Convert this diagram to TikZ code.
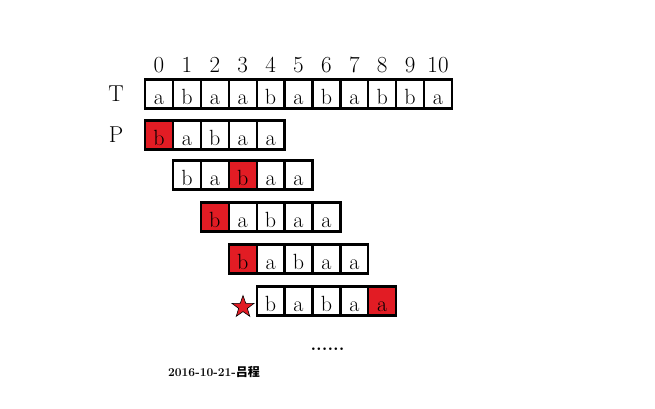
\documentclass[tikz,border=0pt]{standalone}
\usepackage{fontspec}
\usepackage{xcolor}
\newfontfamily\cjk{Noto Sans CJK SC}
\usetikzlibrary{shapes.geometric,positioning}
\definecolor{hitred}{RGB}{226,28,36}
\tikzset{
  cell/.style={draw, line width=2.3pt, minimum width=27.9pt, minimum height=29pt, inner sep=0pt,
    text height=21pt, text depth=0pt, font=\fontsize{22}{22}\selectfont},
  hit/.style={cell, fill=hitred},
  lbl/.style={inner sep=0pt, font=\fontsize{23}{23}\selectfont},
  starmark/.style={star, star points=5, star point ratio=2.5, minimum size=23pt, inner sep=0pt,
    draw, fill=hitred, line width=0.6pt}
}
\begin{document}
\begin{tikzpicture}[x=1pt,y=-1pt]
  \useasboundingbox (0,0) rectangle (655,409);
  \node[lbl] (labT) at (116,94) {T};
  \node[lbl] (labP) at (116,135) {P};
  % text T and its indices
  \foreach \c [count=\i from 0] in {a,b,a,a,b,a,b,a,b,b,a} {
    \node[cell] (t\i) at (159+27.9*\i,94) {\c};
    \node[lbl, anchor=base] (n\i) at (159+27.9*\i,73) {\i};
  }
  % pattern P, shifted one step per row; \hit is the red cell
  \foreach \k/\y/\hit in {0/135/0,1/175/2,2/217/0,3/259/0,4/301/4} {
    \foreach \c [count=\j from 0] in {b,a,b,a,a} {
      \ifnum\j=\hit\relax\def\st{hit}\else\def\st{cell}\fi
      \node[\st] (p\k\j) at (159+27.9*\k+27.9*\j,\y) {\c};
    }
  }
  \node[starmark] (mark) at (243,307) {};
  \node[anchor=base, inner sep=0pt, font=\fontsize{18}{18}\bfseries] (dots) at (327.5,350) {......};
  \node[anchor=base, inner sep=0pt, font=\fontsize{12}{12}\bfseries] (date) at (214,376) {2016-10-21-{\cjk 吕程}};
\end{tikzpicture}
\end{document}
